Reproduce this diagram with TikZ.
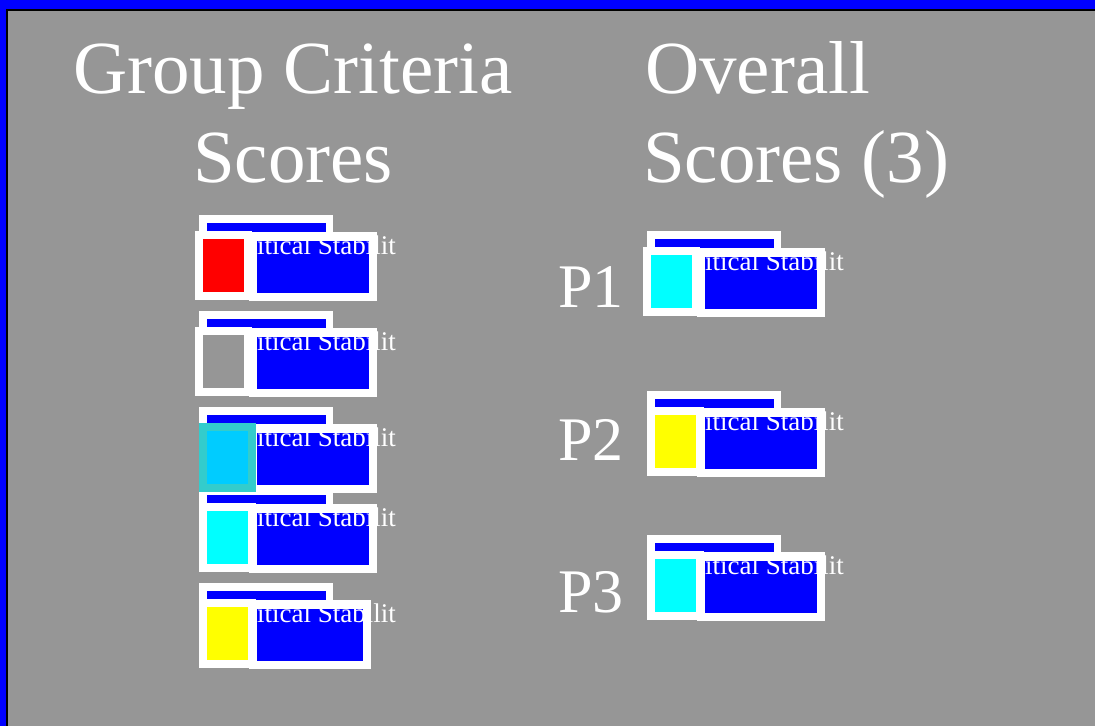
\documentclass[tikz,border=0pt]{standalone}
\usepackage{fontspec}
\setmainfont{Liberation Serif}
\definecolor{bg}{RGB}{150,150,150}
\definecolor{pureblue}{RGB}{0,0,255}
\definecolor{purered}{RGB}{255,0,0}
\definecolor{purecyan}{RGB}{0,255,255}
\definecolor{pureyellow}{RGB}{255,255,0}
\definecolor{skyfill}{HTML}{00CCFF}
\definecolor{tealframe}{HTML}{33CCCC}
\tikzset{
  title/.style={text=white,inner sep=0pt,font=\fontsize{75}{75}\selectfont},
  plabel/.style={text=white,inner sep=0pt,anchor=base west,font=\fontsize{62}{62}\selectfont},
  lbl/.style={text=white,inner sep=0pt,anchor=base west,font=\fontsize{27}{27}\selectfont}
}
% #1 bx, #2 by, #3 left box x, #4 right box right edge, #5 fill, #6 frame, #7 name
\newcommand{\scorewidget}[7]{%
  \fill[white] (#1,#2) rectangle (#1+134,#2+33);
  \fill[pureblue] (#1+8,#2+8) rectangle (#1+127,#2+25);
  \fill[white] (#1+50,#2+17) rectangle (#4,#2+86);
  \fill[pureblue] (#1+58,#2+26) rectangle (#4-8,#2+78);
  \node[lbl] (#7) at (#1+58,#2+39) {itical Stabilit};
  \fill[#6] (#3,#2+16) rectangle (#3+57,#2+85);
  \fill[#5] (#3+8,#2+24) rectangle (#3+49,#2+77);
}
\begin{document}
\begin{tikzpicture}[x=1pt,y=-1pt]
\useasboundingbox (0,0) rectangle (1095,726);
\fill[pureblue] (0,0) rectangle (1095,726);
\fill[black] (6,9) rectangle (1095,726);
\fill[bg] (8,11) rectangle (1095,726);

\node[title,anchor=base] (t1) at (293,93) {Group Criteria};
\node[title,anchor=base] (t2) at (293,182) {Scores};
\node[title,anchor=base west] (t3) at (645,93) {Overall};
\node[title,anchor=base west] (t4) at (643,182) {Scores (3)};

\scorewidget{199}{583}{199}{371}{pureyellow}{white}{w5}
\scorewidget{199}{487}{199}{377}{purecyan}{white}{w4}
\scorewidget{199}{407}{199}{377}{skyfill}{tealframe}{w3}
\scorewidget{199}{311}{195}{377}{bg}{white}{w2}
\scorewidget{199}{215}{195}{377}{purered}{white}{w1}

\scorewidget{647}{231}{643}{825}{purecyan}{white}{p1w}
\scorewidget{647}{391}{647}{825}{pureyellow}{white}{p2w}
\scorewidget{647}{535}{647}{825}{purecyan}{white}{p3w}

\node[plabel] (p1) at (558,307) {P1};
\node[plabel] (p2) at (558,460) {P2};
\node[plabel] (p3) at (558,612) {P3};
\end{tikzpicture}
\end{document}
